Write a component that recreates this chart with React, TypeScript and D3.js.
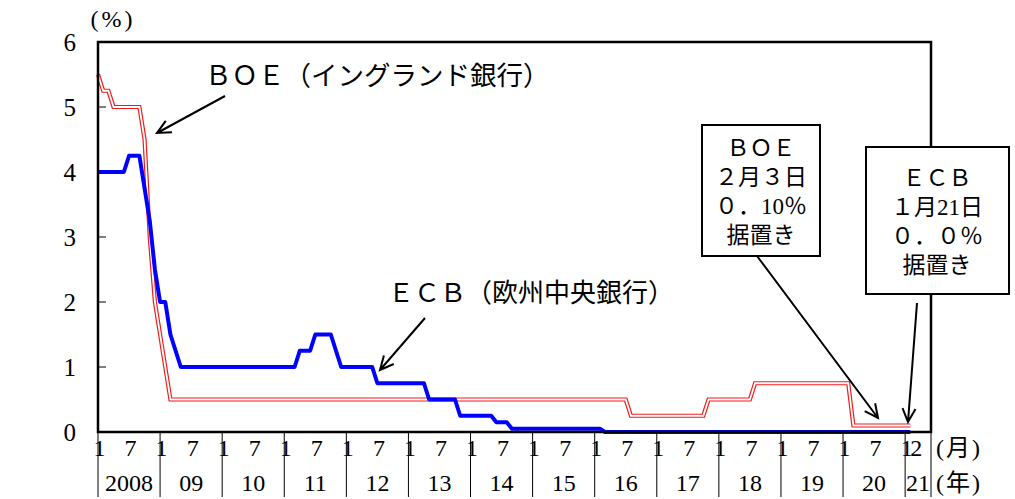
import React from "react";
import * as d3 from "d3";

const yearLabels = ["2008", "09", "10", "11", "12", "13", "14", "15", "16", "17", "18", "19", "20", "21"];
const monthTickLabels = ["1", "7"];
const yTicks = [0, 1, 2, 3, 4, 5, 6];

// ECB main refinancing rate, end of month, Jan 2008 - Feb 2021
const ecb2008 = [4, 4, 4, 4, 4, 4, 4.25, 4.25, 4.25, 3.75, 3.25, 2.5];
const ecb2009 = [2, 2, 1.5, 1.25, 1, 1, 1, 1, 1, 1, 1, 1];
const ecb2010 = [1, 1, 1, 1, 1, 1, 1, 1, 1, 1, 1, 1];
const ecb2011 = [1, 1, 1, 1.25, 1.25, 1.25, 1.5, 1.5, 1.5, 1.5, 1.25, 1];
const ecb2012 = [1, 1, 1, 1, 1, 1, 0.75, 0.75, 0.75, 0.75, 0.75, 0.75];
const ecb2013 = [0.75, 0.75, 0.75, 0.75, 0.5, 0.5, 0.5, 0.5, 0.5, 0.5, 0.25, 0.25];
const ecb2014 = [0.25, 0.25, 0.25, 0.25, 0.25, 0.15, 0.15, 0.15, 0.05, 0.05, 0.05, 0.05];
const ecb2015 = [0.05, 0.05, 0.05, 0.05, 0.05, 0.05, 0.05, 0.05, 0.05, 0.05, 0.05, 0.05];
const ecb2016 = [0.05, 0.05, 0, 0, 0, 0, 0, 0, 0, 0, 0, 0];
const ecb2017 = [0, 0, 0, 0, 0, 0, 0, 0, 0, 0, 0, 0];
const ecb2018 = [0, 0, 0, 0, 0, 0, 0, 0, 0, 0, 0, 0];
const ecb2019 = [0, 0, 0, 0, 0, 0, 0, 0, 0, 0, 0, 0];
const ecb2020 = [0, 0, 0, 0, 0, 0, 0, 0, 0, 0, 0, 0];
const ecb2021 = [0, 0];

// BOE Bank Rate, end of month, Jan 2008 - Feb 2021
const boe2008 = [5.5, 5.25, 5.25, 5, 5, 5, 5, 5, 5, 4.5, 3, 2];
const boe2009 = [1.5, 1, 0.5, 0.5, 0.5, 0.5, 0.5, 0.5, 0.5, 0.5, 0.5, 0.5];
const boe2010 = [0.5, 0.5, 0.5, 0.5, 0.5, 0.5, 0.5, 0.5, 0.5, 0.5, 0.5, 0.5];
const boe2011 = [0.5, 0.5, 0.5, 0.5, 0.5, 0.5, 0.5, 0.5, 0.5, 0.5, 0.5, 0.5];
const boe2012 = [0.5, 0.5, 0.5, 0.5, 0.5, 0.5, 0.5, 0.5, 0.5, 0.5, 0.5, 0.5];
const boe2013 = [0.5, 0.5, 0.5, 0.5, 0.5, 0.5, 0.5, 0.5, 0.5, 0.5, 0.5, 0.5];
const boe2014 = [0.5, 0.5, 0.5, 0.5, 0.5, 0.5, 0.5, 0.5, 0.5, 0.5, 0.5, 0.5];
const boe2015 = [0.5, 0.5, 0.5, 0.5, 0.5, 0.5, 0.5, 0.5, 0.5, 0.5, 0.5, 0.5];
const boe2016 = [0.5, 0.5, 0.5, 0.5, 0.5, 0.5, 0.5, 0.25, 0.25, 0.25, 0.25, 0.25];
const boe2017 = [0.25, 0.25, 0.25, 0.25, 0.25, 0.25, 0.25, 0.25, 0.25, 0.25, 0.5, 0.5];
const boe2018 = [0.5, 0.5, 0.5, 0.5, 0.5, 0.5, 0.5, 0.75, 0.75, 0.75, 0.75, 0.75];
const boe2019 = [0.75, 0.75, 0.75, 0.75, 0.75, 0.75, 0.75, 0.75, 0.75, 0.75, 0.75, 0.75];
const boe2020 = [0.75, 0.75, 0.1, 0.1, 0.1, 0.1, 0.1, 0.1, 0.1, 0.1, 0.1, 0.1];
const boe2021 = [0.1, 0.1];

const ecb = [
  ...ecb2008, ...ecb2009, ...ecb2010, ...ecb2011, ...ecb2012, ...ecb2013, ...ecb2014,
  ...ecb2015, ...ecb2016, ...ecb2017, ...ecb2018, ...ecb2019, ...ecb2020, ...ecb2021,
];
const boe = [
  ...boe2008, ...boe2009, ...boe2010, ...boe2011, ...boe2012, ...boe2013, ...boe2014,
  ...boe2015, ...boe2016, ...boe2017, ...boe2018, ...boe2019, ...boe2020, ...boe2021,
];

const boeBoxLines = ["ＢＯＥ", "２月３日", "０．10％", "据置き"];
const ecbBoxLines = ["ＥＣＢ", "１月21日", "０．０％", "据置き"];

const FONT = "'Liberation Serif', 'DejaVu Serif', 'Noto Sans CJK JP', serif";

const W = 1015;
const H = 499;
const L = 98;
const R = 931;
const T = 42;
const B = 432;

function Arrow({ x1, y1, x2, y2 }: { x1: number; y1: number; x2: number; y2: number }) {
  const ang = Math.atan2(y2 - y1, x2 - x1);
  const len = 15;
  const spread = Math.PI / 7;
  const a1 = ang + Math.PI - spread;
  const a2 = ang + Math.PI + spread;
  const p = `M${x1},${y1}L${x2},${y2}M${x2 + len * Math.cos(a1)},${y2 + len * Math.sin(a1)}L${x2},${y2}L${x2 + len * Math.cos(a2)},${y2 + len * Math.sin(a2)}`;
  return <path d={p} fill="none" stroke="#000" strokeWidth={2} />;
}

export default function App() {
  const nMonths = 161;
  const x = d3.scaleLinear().domain([0, nMonths]).range([L, R]);
  const y = d3.scaleLinear().domain([0, 6]).range([B, T]);
  const line = d3
    .line<number>()
    .x((_, i) => x(i))
    .y((d) => y(d));

  const years = yearLabels.map((lab, i) => ({
    lab,
    start: i * 12,
    end: Math.min((i + 1) * 12, nMonths),
  }));

  return (
    <svg width={W} height={H} style={{ position: "absolute", left: 0, top: 0, background: "#fff" }} fontFamily={FONT}>
      <rect x={0} y={0} width={W} height={H} fill="#fff" />
      {/* y ticks */}
      {yTicks.map((t) => (
        <g key={t}>
          <line x1={L} x2={L + 8} y1={y(t)} y2={y(t)} stroke="#000" strokeWidth={1} />
          <text x={76} y={y(t)} dy="0.35em" textAnchor="end" fontSize={25}>
            {t}
          </text>
        </g>
      ))}
      <text x={113} y={27} textAnchor="middle" fontSize={24} letterSpacing={3}>
        (%)
      </text>

      {/* x axis label grid */}
      {years.map((yr) => (
        <g key={yr.lab}>
          <line x1={x(yr.start)} x2={x(yr.start)} y1={B} y2={497} stroke="#000" strokeWidth={1} />
          {monthTickLabels.map((m) => {
            const idx = yr.start + (+m - 1);
            if (idx >= boe.length) return null;
            return (
              <text key={m} x={x(idx) + 1.5} y={456} textAnchor="middle" fontSize={24}>
                {m}
              </text>
            );
          })}
          <text x={(x(yr.start) + x(yr.end)) / 2} y={491} textAnchor="middle" fontSize={24}>
            {yr.lab}
          </text>
        </g>
      ))}
      <text x={x(157) + 6} y={456} textAnchor="middle" fontSize={24}>
        2
      </text>
      <line x1={R} x2={R} y1={B} y2={497} stroke="#000" strokeWidth={1} />
      <text x={936} y={456} fontSize={24} letterSpacing={2}>
        (月)
      </text>
      <text x={936} y={491} fontSize={24} letterSpacing={2}>
        (年)
      </text>

      {/* series */}
      <path d={line(boe) || ""} fill="none" stroke="#ee1c1c" strokeWidth={4.2} strokeLinejoin="miter" />
      <path d={line(boe) || ""} fill="none" stroke="#fff" strokeWidth={1.8} strokeLinejoin="miter" />
      <path d={line(ecb) || ""} fill="none" stroke="#0000ff" strokeWidth={4} strokeLinejoin="round" />

      {/* frame */}
      <rect x={L} y={T} width={R - L} height={B - T} fill="none" stroke="#000" strokeWidth={2.5} />

      {/* annotations */}
      <text x={205} y={85} fontSize={26.5}>
        ＢＯＥ（イングランド銀行）
      </text>
      <Arrow x1={225} y1={96} x2={157} y2={133} />
      <text x={388} y={302} fontSize={26}>
        ＥＣＢ（欧州中央銀行）
      </text>
      <Arrow x1={425} y1={318} x2={380} y2={370} />

      <rect x={702} y={125} width={118} height={131} fill="#fff" stroke="#000" strokeWidth={2} />
      {boeBoxLines.map((s, i) => (
        <text key={i} x={761} y={156 + i * 29} textAnchor="middle" fontSize={23}>
          {s}
        </text>
      ))}
      <Arrow x1={757} y1={256} x2={878} y2={418} />

      <rect x={866} y={147} width={143} height={147} fill="#fff" stroke="#000" strokeWidth={2} />
      {ecbBoxLines.map((s, i) => (
        <text key={i} x={937} y={186 + i * 29} textAnchor="middle" fontSize={23}>
          {s}
        </text>
      ))}
      <Arrow x1={917} y1={303} x2={908} y2={422} />
    </svg>
  );
}
